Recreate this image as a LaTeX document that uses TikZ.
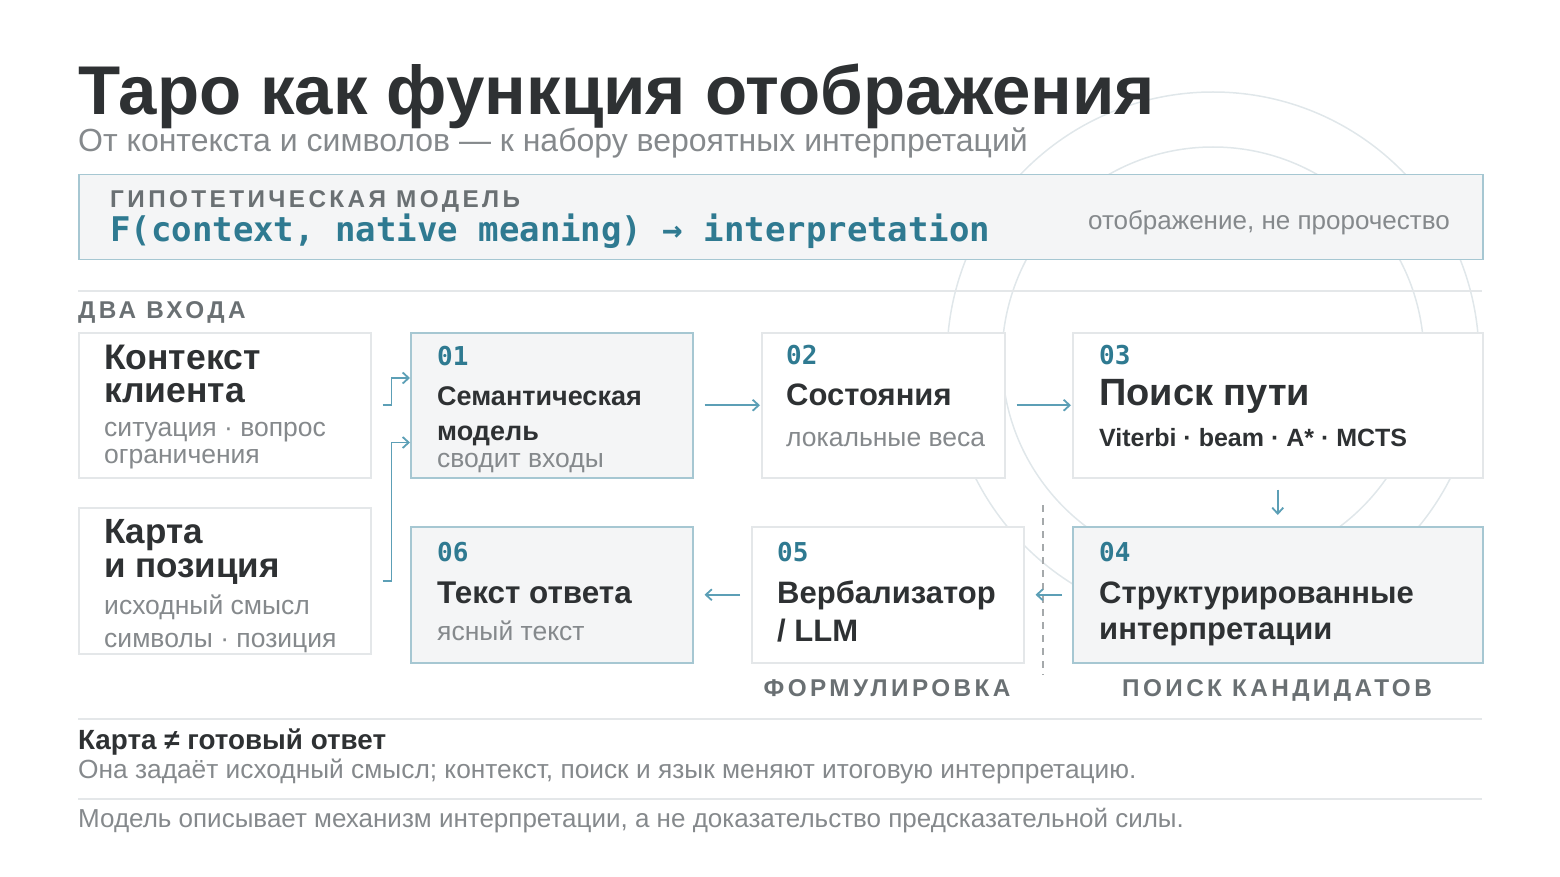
\documentclass[tikz,border=0pt]{standalone}
\usepackage{fontspec}
\setmainfont{Liberation Sans}
\newfontfamily\codefont{DejaVu Sans Mono}
\newfontfamily\spacedfont[LetterSpace=14]{Liberation Sans}
\usetikzlibrary{arrows.meta}

\definecolor{ink}{HTML}{2E3133}
\definecolor{muted}{HTML}{85898C}
\definecolor{capgray}{HTML}{6A7073}
\definecolor{teal}{HTML}{2F7A91}
\definecolor{wire}{HTML}{5C9FB6}
\definecolor{rim}{HTML}{A6C7D2}
\definecolor{pale}{HTML}{F4F5F6}
\definecolor{edge}{HTML}{E4E7E9}
\definecolor{ring}{HTML}{E0E7EA}

\newcommand\sz[1]{\fontsize{#1}{#1}\selectfont}

\tikzset{
  box/.style   = {draw=edge, line width=1.5pt, fill=white, anchor=north west, inner sep=0pt},
  hibox/.style = {box, draw=rim, fill=pale},
  txt/.style   = {anchor=base west, inner sep=0pt},
  head/.style  = {txt, font=\sz{31}\bfseries, text=ink},
  note/.style  = {txt, font=\sz{26.5}, text=muted},
  num/.style   = {txt, font=\codefont\sz{26}\bfseries, text=teal},
  tag/.style   = {txt, font=\spacedfont\sz{24.3}\bfseries, text=capgray},
}

\begin{document}
\begin{tikzpicture}[x = 1pt, y = -1pt]
    \useasboundingbox (0,0) rectangle (1560,877);

    \draw[ring, line width=1.5pt] (1213,358) circle[radius=266];
    \draw[ring, line width=1.5pt] (1213,358) circle[radius=211];

    \node[txt, font=\sz{69}\bfseries, text=ink] (title) at (78,115) {Таро как функция отображения};
    \node[txt, font=\sz{32}, text=muted] (sub) at (78,152) {От контекста и символов — к набору вероятных интерпретаций};

    \node[hibox, minimum width=1404pt, minimum height=85pt] (fbox) at (78,174) {};
    \node[tag] (ftag) at (110,208) {ГИПОТЕТИЧЕСКАЯ МОДЕЛЬ};
    \node[txt, font=\codefont\sz{34}\bfseries, text=teal] (fcode) at (110,242) {F(context, native meaning) → interpretation};
    \node[note, font=\sz{26}, anchor=base east] (fnote) at (1450,230) {отображение, не пророчество};

    \draw[edge, line width=1.5pt] (78,291) -- (1482,291);
    \node[tag] (intag) at (78,318) {ДВА ВХОДА};

    \node[box, minimum width=292pt, minimum height=145pt] (ctx) at (78,332) {};
    \node[head, font=\sz{35.5}\bfseries] (ctx1) at (104,369) {Контекст};
    \node[head, font=\sz{35.5}\bfseries] (ctx2) at (104,402) {клиента};
    \node[note] (ctx3) at (104,436) {ситуация · вопрос};
    \node[note] (ctx4) at (104,463) {ограничения};

    \node[box, minimum width=292pt, minimum height=146pt] (card) at (78,507) {};
    \node[head, font=\sz{35}\bfseries] (card1) at (104,543) {Карта};
    \node[head, font=\sz{35}\bfseries] (card2) at (104,577) {и позиция};
    \node[note] (card3) at (104,614) {исходный смысл};
    \node[note] (card4) at (104,647) {символы · позиция};

    \node[hibox, minimum width=282pt, minimum height=145pt] (sem) at (410,332) {};
    \node[num] (sem0) at (437,365) {01};
    \node[head, font=\sz{27}\bfseries] (sem1) at (437,405) {Семантическая};
    \node[head, font=\sz{27}\bfseries] (sem2) at (437,440) {модель};
    \node[note] (sem3) at (437,467) {сводит входы};

    \node[box, minimum width=243pt, minimum height=145pt] (st) at (761,332) {};
    \node[num] (st0) at (786,364) {02};
    \node[head] (st1) at (786,405) {Состояния};
    \node[note] (st2) at (786,446) {локальные веса};

    \node[box, minimum width=410pt, minimum height=145pt] (path) at (1072,332) {};
    \node[num] (path0) at (1099,364) {03};
    \node[head, font=\sz{38}\bfseries] (path1) at (1099,405) {Поиск пути};
    \node[head, font=\sz{25}\bfseries] (path2) at (1099,446) {Viterbi · beam · A* · MCTS};

    \node[hibox, minimum width=410pt, minimum height=136pt] (cand) at (1072,526) {};
    \node[num] (cand0) at (1099,561) {04};
    \node[head] (cand1) at (1099,603) {Структурированные};
    \node[head] (cand2) at (1099,639) {интерпретации};

    \node[box, minimum width=272pt, minimum height=136pt] (verb) at (751,526) {};
    \node[num] (verb0) at (777,561) {05};
    \node[head] (verb1) at (777,603) {Вербализатор};
    \node[head] (verb2) at (777,641) {/ LLM};

    \node[hibox, minimum width=282pt, minimum height=136pt] (ans) at (410,526) {};
    \node[num] (ans0) at (437,561) {06};
    \node[head, font=\sz{31.4}\bfseries] (ans1) at (437,603) {Текст ответа};
    \node[note] (ans2) at (437,640) {ясный текст};

    \node[tag, anchor=base] (verbtag) at (887,696) {ФОРМУЛИРОВКА};
    \node[tag, anchor=base] (candtag) at (1277,696) {ПОИСК КАНДИДАТОВ};
    \draw[capgray!60, line width=1.5pt, dash pattern=on 7pt off 6pt] (1043,505) -- (1043,675);

    \tikzset{flow/.style={-{Straight Barb[length=6pt,width=11pt]}, draw=wire, line width=1.8pt}}  % thin open tips

    \draw[flow] ([xshift=11pt]ctx.east) -- ++(9,0) |- ([yshift=-46pt]sem.north west);
    \draw[flow] ([xshift=11pt]card.east) -- ++(9,0) |- ([yshift=36pt]sem.south west);
    \draw[flow, shorten <=11pt, shorten >=1pt] (sem.east) -- (st.west);
    \draw[flow, shorten <=11pt, shorten >=1pt] (st.east) -- (st.east -| path.west);
    \draw[flow, shorten <=11pt, shorten >=11pt] (path.south) -- (cand.north);
    \draw[flow, shorten <=10pt, shorten >=11pt] (cand.west) -- (cand.west -| verb.east);
    \draw[flow, shorten <=11pt, shorten >=11pt] (verb.west) -- (ans.east);

    \draw[edge, line width=1.5pt] (78,719) -- (1482,719);
    \node[txt, font=\sz{27.8}\bfseries, text=ink] (sum1) at (78,749) {Карта ≠ готовый ответ};
    \node[note, font=\sz{26.3}] (sum2) at (78,778) {Она задаёт исходный смысл; контекст, поиск и язык меняют итоговую интерпретацию.};
    \draw[edge, line width=1.5pt] (78,799) -- (1482,799);
    \node[note, font=\sz{26}] (sum3) at (78,827) {Модель описывает механизм интерпретации, а не доказательство предсказательной силы.};

\end{tikzpicture}
\end{document}
